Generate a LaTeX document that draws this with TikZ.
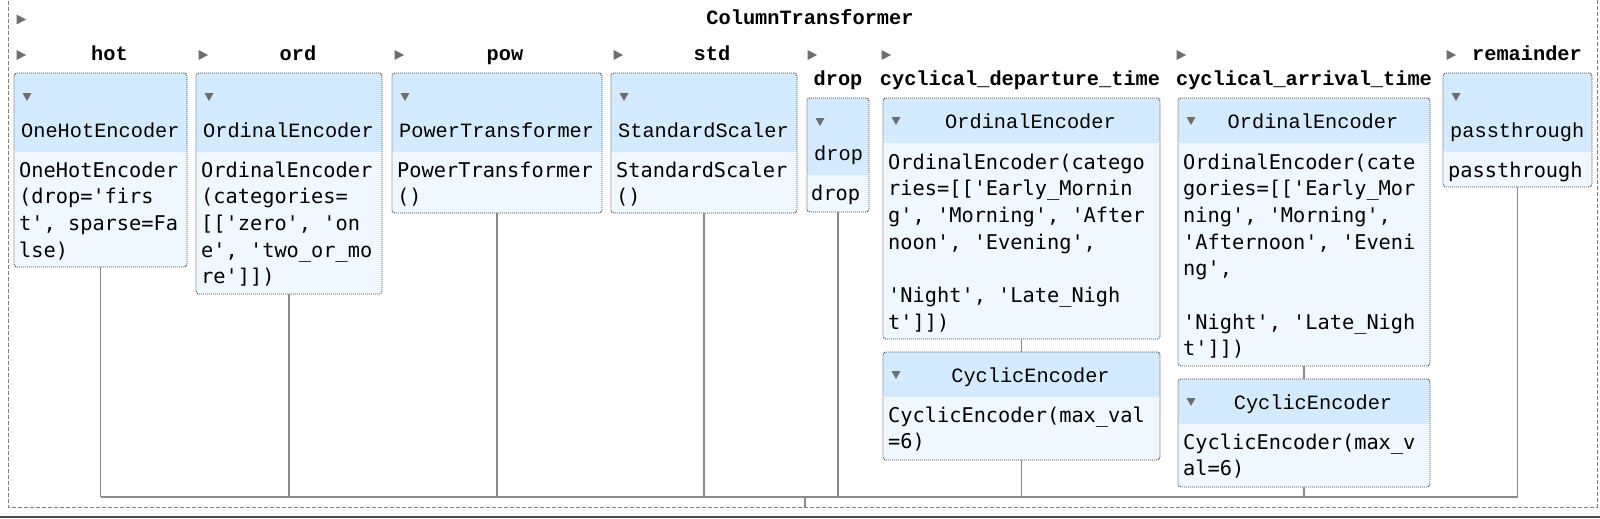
\documentclass[tikz,border=0pt]{standalone}
\usepackage{fontspec}
\newfontfamily\codefont{DejaVu Sans Mono}
\newfontfamily\courfont{Liberation Mono}
\usepackage{tikz}
\usetikzlibrary{calc}
\definecolor{headblue}{HTML}{D4EBFF}
\definecolor{bodyblue}{HTML}{F0F8FF}
\definecolor{wiregray}{HTML}{8A8A8A}
\definecolor{trigray}{HTML}{6E6E6E}
\newcommand{\rtri}[2]{\fill[trigray] (#1-4.5,#2-5) -- (#1+5,#2) -- (#1-4.5,#2+5) -- cycle;}
\newcommand{\dtri}[2]{\fill[trigray] (#1-4.5,#2-4) -- (#1+4.5,#2-4) -- (#1,#2+4) -- cycle;}

\begin{document}
\begin{tikzpicture}[x=1pt, y=-1pt,
  est/.style={rectangle, anchor=north west, inner sep=0, outer sep=0, fill=bodyblue,
    draw=black!75, line width=0.9, dash pattern=on 1pt off 1pt, rounded corners=3,
    path picture={\fill[headblue] (path picture bounding box.north west) rectangle ([yshift=-#1pt]path picture bounding box.north east);}},
  body/.style={anchor=north west, inner sep=0, align=left, font=\codefont\fontsize{20.3}{26.67}\selectfont},
  hname/.style={inner sep=0, font=\courfont\fontsize{20.3}{24}\selectfont},
  lbl/.style={anchor=base, inner sep=0, font=\courfont\bfseries\fontsize{20.3}{24}\selectfont},
  wire/.style={draw=wiregray, line width=1.4}]
\useasboundingbox (0,0) rectangle (1600,519);
\draw[black!50, line width=1, dash pattern=on 4pt off 2pt] (8,-5) rectangle (1597,507);
\draw[black!70, line width=2] (0,517) -- (1600,517);

\rtri{21}{19.5}
\node[lbl] (title) at (810,24.5) {ColumnTransformer};

\rtri{21}{55}   \node[lbl] (lhot) at (109.5,61) {hot};
\rtri{203}{55}  \node[lbl] (lord) at (298,61) {ord};
\rtri{399}{55}  \node[lbl] (lpow) at (505,61) {pow};
\rtri{618}{55}  \node[lbl] (lstd) at (712,61) {std};
\rtri{812}{55}  \node[lbl] (ldrop) at (838,85) {drop};
\rtri{886}{55}  \node[lbl] (ldep) at (1020,85) {cyclical\_departure\_time};
\rtri{1181}{55} \node[lbl] (larr) at (1304,85) {cyclical\_arrival\_time};
\rtri{1451}{55} \node[lbl] (lrem) at (1527,61) {remainder};

\node[est=79, minimum width=173, minimum height=194] (hot) at (14,73) {};
\dtri{27}{97}
\node[hname, anchor=base west] (hothead) at (21,137) {OneHotEncoder};
\node[body] (hotbody) at (19,158.3) {\strut OneHotEncoder\\(drop='firs\\t', sparse=Fa\\lse)};

\node[est=79, minimum width=186, minimum height=221] (ord) at (196,73) {};
\dtri{209}{97}
\node[hname, anchor=base west] (ordhead) at (203,137) {OrdinalEncoder};
\node[body] (ordbody) at (201,158.3) {\strut OrdinalEncoder\\(categories=\\{}[['zero', 'on\\e', 'two\_or\_mo\\re']])};

\node[est=79, minimum width=210, minimum height=140] (pow) at (392,73) {};
\dtri{405}{97}
\node[hname, anchor=base west] (powhead) at (399,137) {PowerTransformer};
\node[body] (powbody) at (397,158.3) {\strut PowerTransformer\\()};

\node[est=79, minimum width=186, minimum height=140] (std) at (611,73) {};
\dtri{624}{97}
\node[hname, anchor=base west] (stdhead) at (618,137) {StandardScaler};
\node[body] (stdbody) at (616,158.3) {\strut StandardScaler\\()};

\node[est=77, minimum width=62, minimum height=114] (drop) at (807,98) {};
\dtri{820}{122}
\node[hname, anchor=base west] (drophead) at (814,160) {drop};
\node[body] (dropbody) at (811,181.3) {\strut drop};

\node[est=45, minimum width=277, minimum height=241] (depOE) at (883,98) {};
\dtri{896}{121}
\node[hname, anchor=base] (depOEhead) at (1030.5,128) {OrdinalEncoder};
\node[body] (depOEbody) at (888,150.3) {\strut OrdinalEncoder(catego\\ries=[['Early\_Mornin\\g', 'Morning', 'After\\noon', 'Evening',\\\mbox{}\\'Night', 'Late\_Nigh\\t']])};

\node[est=45, minimum width=277, minimum height=108] (depCE) at (883,352) {};
\dtri{896}{375}
\node[hname, anchor=base] (depCEhead) at (1030.5,382) {CyclicEncoder};
\node[body] (depCEbody) at (888,403.3) {\strut CyclicEncoder(max\_val\\=6)};

\node[est=45, minimum width=252, minimum height=268] (arrOE) at (1178,98) {};
\dtri{1191}{121}
\node[hname, anchor=base] (arrOEhead) at (1313,128) {OrdinalEncoder};
\node[body] (arrOEbody) at (1183,150.3) {\strut OrdinalEncoder(cate\\gories=[['Early\_Mor\\ning', 'Morning',\\'Afternoon', 'Eveni\\ng',\\\mbox{}\\'Night', 'Late\_Nigh\\t']])};

\node[est=45, minimum width=252, minimum height=108] (arrCE) at (1178,379) {};
\dtri{1191}{402}
\node[hname, anchor=base] (arrCEhead) at (1313,409) {CyclicEncoder};
\node[body] (arrCEbody) at (1183,430.3) {\strut CyclicEncoder(max\_v\\al=6)};

\node[est=79, minimum width=149, minimum height=114] (rem) at (1443,73) {};
\dtri{1456}{97}
\node[hname, anchor=base west] (remhead) at (1450,137) {passthrough};
\node[body] (rembody) at (1448,158.3) {\strut passthrough};

\coordinate (bus) at (0,497);
\coordinate (tap) at (805,507);
\draw[wire] (depOE.south) -- (depCE.north);
\draw[wire] (arrOE.south) -- (arrCE.north);
\foreach \n in {hot,ord,pow,std,drop,depCE,arrCE,rem}
  \draw[wire] (\n.south) -- (\n.south |- bus);
\draw[wire] (hot.south |- bus) -- (rem.south |- bus);
\draw[wire] (tap |- bus) -- (tap);
\end{tikzpicture}
\end{document}
